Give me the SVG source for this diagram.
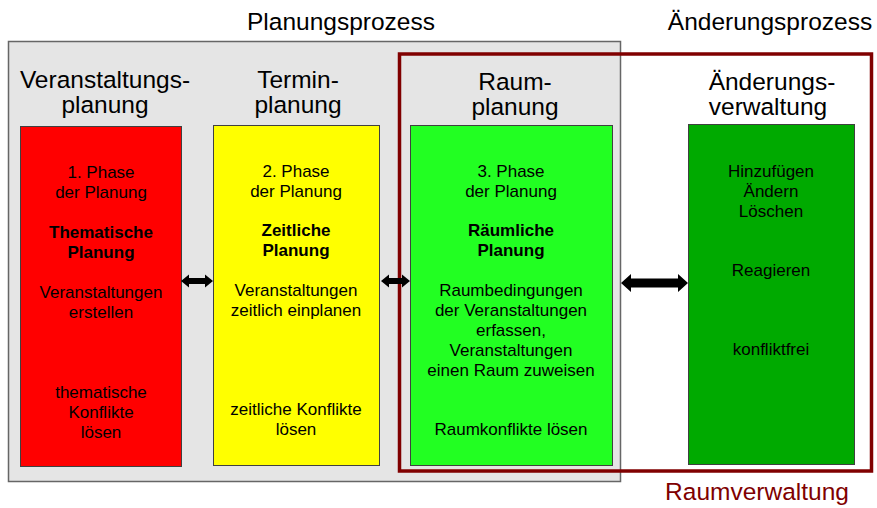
<svg xmlns="http://www.w3.org/2000/svg" width="877" height="508" viewBox="0 0 877 508">
  <style>
    text { font-family: "Liberation Sans", Arial, sans-serif; fill: #000; text-anchor: middle; }
    .title { font-size: 24.5px; }
    .body { font-size: 17px; }
    .bold { font-size: 17px; font-weight: bold; }
    .box { stroke: #404040; stroke-width: 1; }
    .arrow { fill: #000; }
  </style>

  <rect width="877" height="508" fill="#ffffff"/>

  <!-- Planning process frame -->
  <g id="planungsprozess">
    <rect x="8.5" y="41.5" width="612" height="440" fill="#e5e5e5" stroke="#666666" stroke-width="1.5"/>
    <text class="title" x="341" y="30">Planungsprozess</text>
  </g>

  <!-- Change process label -->
  <g id="aenderungsprozess">
    <text class="title" x="770" y="30">Änderungsprozess</text>
  </g>

  <!-- Phase 1 -->
  <g id="veranstaltungsplanung">
    <text class="title" x="105" y="88">Veranstaltungs-</text>
    <text class="title" x="105" y="113">planung</text>
    <rect class="box" x="20.5" y="126.5" width="161" height="340" fill="#ff0000"/>
    <text class="body" x="101" y="178">1. Phase</text>
    <text class="body" x="101" y="198">der Planung</text>
    <text class="bold" x="101" y="238">Thematische</text>
    <text class="bold" x="101" y="258">Planung</text>
    <text class="body" x="101" y="298">Veranstaltungen</text>
    <text class="body" x="101" y="318">erstellen</text>
    <text class="body" x="101" y="398">thematische</text>
    <text class="body" x="101" y="418">Konflikte</text>
    <text class="body" x="101" y="438">lösen</text>
  </g>

  <!-- Phase 2 -->
  <g id="terminplanung">
    <text class="title" x="298" y="88">Termin-</text>
    <text class="title" x="298" y="113">planung</text>
    <rect class="box" x="213.5" y="125.5" width="166" height="340" fill="#ffff00"/>
    <text class="body" x="296" y="177">2. Phase</text>
    <text class="body" x="296" y="197">der Planung</text>
    <text class="bold" x="296" y="236">Zeitliche</text>
    <text class="bold" x="296" y="256">Planung</text>
    <text class="body" x="296" y="296">Veranstaltungen</text>
    <text class="body" x="296" y="316">zeitlich einplanen</text>
    <text class="body" x="296" y="415">zeitliche Konflikte</text>
    <text class="body" x="296" y="435">lösen</text>
  </g>

  <!-- Room administration frame -->
  <g id="raumverwaltung">
    <rect x="399.5" y="54" width="472" height="417" fill="none" stroke="#800000" stroke-width="3.5"/>
    <text class="title" x="757" y="500" style="fill:#800000">Raumverwaltung</text>
  </g>

  <!-- Phase 3 -->
  <g id="raumplanung">
    <text class="title" x="515" y="90">Raum-</text>
    <text class="title" x="515" y="115">planung</text>
    <rect class="box" x="410.5" y="125.5" width="202" height="340" fill="#22ff22"/>
    <text class="body" x="511" y="177">3. Phase</text>
    <text class="body" x="511" y="197">der Planung</text>
    <text class="bold" x="511" y="236">Räumliche</text>
    <text class="bold" x="511" y="256">Planung</text>
    <text class="body" x="511" y="296">Raumbedingungen</text>
    <text class="body" x="511" y="316">der Veranstaltungen</text>
    <text class="body" x="511" y="336">erfassen,</text>
    <text class="body" x="511" y="356">Veranstaltungen</text>
    <text class="body" x="511" y="376">einen Raum zuweisen</text>
    <text class="body" x="511" y="435">Raumkonflikte lösen</text>
  </g>

  <!-- Change management -->
  <g id="aenderungsverwaltung">
    <text class="title" x="772" y="90">Änderungs-</text>
    <text class="title" x="768" y="115">verwaltung</text>
    <rect class="box" x="688.5" y="124.5" width="166" height="340" fill="#00aa00"/>
    <text class="body" x="771" y="177">Hinzufügen</text>
    <text class="body" x="771" y="197">Ändern</text>
    <text class="body" x="771" y="217">Löschen</text>
    <text class="body" x="771" y="276">Reagieren</text>
    <text class="body" x="771" y="355">konfliktfrei</text>
  </g>

  <!-- Double-headed connectors between the phases -->
  <g id="connectors">
    <path class="arrow" d="M181,281 L189,274.5 L189,278 L205,278 L205,274.5 L213,281 L205,287.5 L205,284 L189,284 L189,287.5 Z"/>
    <path class="arrow" d="M381,281 L389,274.5 L389,278 L402,278 L402,274.5 L410,281 L402,287.5 L402,284 L389,284 L389,287.5 Z"/>
    <path class="arrow" d="M621,283 L631,274 L631,278.5 L678,278.5 L678,274 L688,283 L678,292 L678,287.5 L631,287.5 L631,292 Z"/>
  </g>
</svg>
